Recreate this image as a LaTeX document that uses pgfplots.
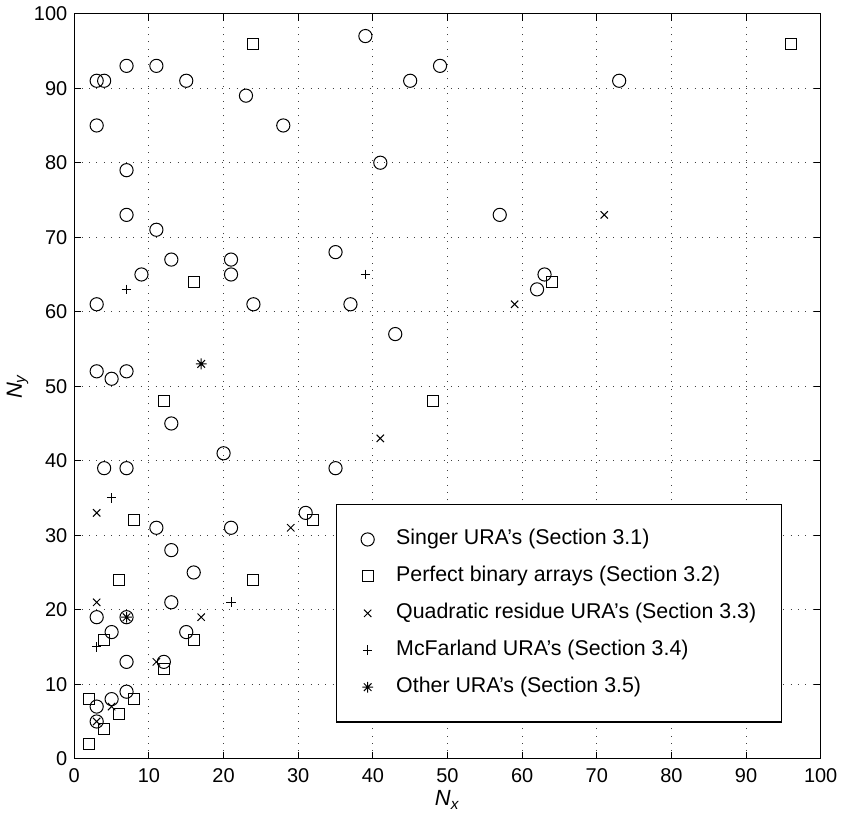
\documentclass[border=0pt]{standalone}
\usepackage{fontspec}
\setmainfont{Liberation Sans}
\usepackage{pgfplots}
\pgfplotsset{compat=1.18}

% MATLAB style asterisk: a plus and a cross on top of each other
\pgfdeclareplotmark{mstar}{%
  \pgfpathmoveto{\pgfqpoint{0pt}{\pgfplotmarksize}}\pgfpathlineto{\pgfqpoint{0pt}{-\pgfplotmarksize}}%
  \pgfpathmoveto{\pgfqpoint{\pgfplotmarksize}{0pt}}\pgfpathlineto{\pgfqpoint{-\pgfplotmarksize}{0pt}}%
  \pgfpathmoveto{\pgfqpoint{0.707\pgfplotmarksize}{0.707\pgfplotmarksize}}\pgfpathlineto{\pgfqpoint{-0.707\pgfplotmarksize}{-0.707\pgfplotmarksize}}%
  \pgfpathmoveto{\pgfqpoint{-0.707\pgfplotmarksize}{0.707\pgfplotmarksize}}\pgfpathlineto{\pgfqpoint{0.707\pgfplotmarksize}{-0.707\pgfplotmarksize}}%
  \pgfusepathqstroke}

\begin{document}
\begin{tikzpicture}
\begin{axis}[
  width=374pt,height=373.3pt,scale only axis,
  xmin=0,xmax=100,ymin=0,ymax=100,
  xtick={0,10,...,100},ytick={0,10,...,100},
  tick align=inside,major tick length=3.5pt,
  xtick pos=both,ytick pos=both,
  axis line style={line width=0.6pt},
  tick style={line width=0.5pt,black},
  grid=major,
  grid style={black!75,line width=0.5pt,dash pattern=on 0.5pt off 3.2pt},
  /pgf/number format/assume math mode=true,
  tick label style={font=\fontsize{10}{12}\selectfont},
  xticklabel style={yshift=-1.5pt},
  xlabel={\textit{N}\textsubscript{\textit{x}}},
  ylabel={\textit{N}\textsubscript{\textit{y}}},
  label style={font=\fontsize{11}{13}\selectfont},
  xlabel style={yshift=3pt},
  ylabel style={yshift=-4pt},
  clip=false,
  legend cell align=left,
  legend style={at={(0.35,0.342)},anchor=north west,draw=black,line width=0.6pt,
    fill=white,font=\fontsize{10.7}{12}\selectfont,
    inner xsep=12.5pt,inner ysep=12pt,row sep=7.5pt,
    nodes={inner sep=0pt,text height=8pt,text depth=3pt},
    /tikz/every odd column/.append style={column sep=11pt}},
]
\addplot[only marks,black,mark=o,mark size=3.3pt,mark options={line width=0.5pt}] coordinates {
(3,91) (4,91) (7,93) (11,93) (15,91) (23,89) (39,97) (45,91) (49,93) (73,91)
(3,85) (28,85) (7,79) (41,80) (7,73) (57,73) (11,71)
(13,67) (21,67) (21,65) (9,65) (35,68) (63,65) (62,63)
(3,61) (24,61) (37,61) (43,57)
(3,52) (5,51) (7,52) (13,45) (20,41) (4,39) (7,39) (35,39) (31,33) (11,31) (21,31)
(13,28) (16,25) (13,21) (3,19) (7,19) (5,17) (15,17) (7,13) (12,13) (7,9) (3,7) (5,8) (3,5)};
\addlegendentry{Singer URA’s (Section 3.1)}
\addplot[only marks,black,mark=square,mark size=2.75pt,mark options={line width=0.5pt}] coordinates {
(24,96) (96,96) (16,64) (64,64) (12,48) (48,48) (8,32) (32,32) (6,24) (24,24)
(4,16) (16,16) (12,12) (2,8) (8,8) (6,6) (4,4) (2,2)};
\addlegendentry{Perfect binary arrays (Section 3.2)}
\addplot[only marks,black,mark=x,mark size=2.6pt,mark options={line width=0.5pt}] coordinates {
(71,73) (59,61) (41,43) (3,33) (29,31) (3,21) (17,19) (11,13) (5,7) (3,5)};
\addlegendentry{Quadratic residue URA’s (Section 3.3)}
\addplot[only marks,black,mark=+,mark size=2.4pt,mark options={line width=0.5pt}] coordinates {
(7,63) (39,65) (5,35) (21,21) (3,15)};
\addlegendentry{McFarland URA’s (Section 3.4)}
\addplot[only marks,black,mark=mstar,mark size=2.7pt,mark options={line width=0.5pt}] coordinates {
(17,53) (7,19)};
\addlegendentry{Other URA’s (Section 3.5)}
\end{axis}
\end{tikzpicture}
\end{document}
